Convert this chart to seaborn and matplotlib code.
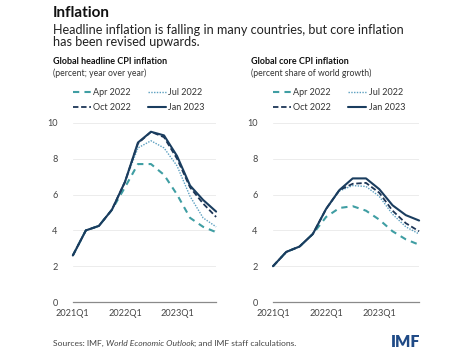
import numpy as np
import pandas as pd
import matplotlib
matplotlib.use("Agg")
import matplotlib.pyplot as plt
import seaborn as sns

# quarters 2021Q1 .. 2023Q4
quarters = ["2021Q1", "2021Q2", "2021Q3", "2021Q4",
            "2022Q1", "2022Q2", "2022Q3", "2022Q4",
            "2023Q1", "2023Q2", "2023Q3", "2023Q4"]
tick_labels = ["2021Q1", "2022Q1", "2023Q1"]
vintages = ["Apr 2022", "Jul 2022", "Oct 2022", "Jan 2023"]

# Global headline CPI inflation (percent, y/y)
headline_apr22 = [2.6, 4.0, 4.25, 5.15, 6.4, 7.7, 7.7, 7.1, 6.0, 4.7, 4.2, 3.9]
headline_jul22 = [2.6, 4.0, 4.25, 5.15, 6.7, 8.6, 9.0, 8.6, 7.6, 5.9, 4.7, 4.2]
headline_oct22 = [2.6, 4.0, 4.25, 5.15, 6.7, 8.85, 9.5, 9.2, 8.0, 6.4, 5.5, 4.75]
headline_jan23 = [2.6, 4.0, 4.25, 5.15, 6.7, 8.9, 9.5, 9.3, 8.15, 6.5, 5.7, 5.05]

# Global core CPI inflation
core_apr22 = [2.0, 2.8, 3.1, 3.8, 4.75, 5.25, 5.35, 5.1, 4.6, 3.95, 3.5, 3.2]
core_jul22 = [2.0, 2.8, 3.1, 3.8, 5.2, 6.2, 6.5, 6.45, 5.9, 4.9, 4.2, 3.8]
core_oct22 = [2.0, 2.8, 3.1, 3.8, 5.2, 6.25, 6.6, 6.65, 6.1, 5.1, 4.4, 3.95]
core_jan23 = [2.0, 2.8, 3.1, 3.8, 5.2, 6.25, 6.9, 6.9, 6.3, 5.4, 4.85, 4.55]

colors = {"Apr 2022": "#3f9ea3", "Jul 2022": "#5b9fc0",
          "Oct 2022": "#1d3657", "Jan 2023": "#1a3d5f"}
dashes = {"Apr 2022": (3, 2.5), "Jul 2022": (1, 1),
          "Oct 2022": (3, 1.5), "Jan 2023": ""}
widths = {"Apr 2022": 1.5, "Jul 2022": 1.0, "Oct 2022": 1.3, "Jan 2023": 1.5}


def long_frame(series):
    rows = []
    for name, vals in zip(vintages, series):
        for i, v in enumerate(vals):
            rows.append({"q": i, "quarter": quarters[i], "vintage": name, "value": v})
    return pd.DataFrame(rows)


headline = long_frame([headline_apr22, headline_jul22, headline_oct22, headline_jan23])
core = long_frame([core_apr22, core_jul22, core_oct22, core_jan23])

sns.set_theme(style="white")
plt.rcParams["font.family"] = ["Lato", "DejaVu Sans"]

fig = plt.figure(figsize=(4.76, 3.55), dpi=100)
ax1 = fig.add_axes([0.153, 0.149, 0.301, 0.505])
ax2 = fig.add_axes([0.5735, 0.149, 0.307, 0.505])

for ax, df in [(ax1, headline), (ax2, core)]:
    for y in [2, 4, 6, 8, 10]:
        ax.axhline(y, color="#ececec", lw=0.7, zorder=0)
    for name in vintages:
        sub = df[df["vintage"] == name]
        sns.lineplot(data=sub, x="q", y="value", ax=ax, color=colors[name],
                     lw=widths[name], legend=False, clip_on=False,
                     zorder=2 + vintages.index(name))
        line = ax.lines[-1]
        line.set_solid_joinstyle("round")
        line.set_dash_joinstyle("round")
        if dashes[name]:
            line.set_dashes(dashes[name])
    ax.set_xlim(0, 11)
    ax.set_ylim(0, 10)
    ax.set_xticks([quarters.index(t) for t in tick_labels])
    ax.set_xticklabels(tick_labels)
    ax.set_yticks([0, 2, 4, 6, 8, 10])
    ax.set_xlabel("")
    ax.set_ylabel("")
    for s in ["top", "right", "left"]:
        ax.spines[s].set_visible(False)
    ax.spines["bottom"].set_color("#8a8a8a")
    ax.spines["bottom"].set_linewidth(0.9)
    ax.tick_params(axis="x", direction="inout", length=4, width=0.8,
                   color="#8a8a8a", labelsize=6.6, labelcolor="#444444", pad=3)
    ax.tick_params(axis="y", length=0, labelsize=6.6, labelcolor="#444444", pad=11)
    ax.patch.set_alpha(0)

# titles
fig.text(0.111, 0.962, "Inflation", fontsize=11, fontweight="bold",
         color="#111111", va="center")
fig.text(0.111, 0.899, "Headline inflation is falling in many countries, but core inflation\nhas been revised upwards.",
         fontsize=9.1, color="#222222", va="center", linespacing=0.93)

panel_info = [(0.111, "Global headline CPI inflation", "(percent; year over year)"),
              (0.527, "Global core CPI inflation", "(percent share of world growth)")]
for x, t, s in panel_info:
    fig.text(x, 0.826, t, fontsize=6.5, fontweight="bold", color="#111111", va="center")
    fig.text(x, 0.795, s, fontsize=6.2, color="#333333", va="center")

# legends: Apr/Jul on first row, Oct/Jan on second
order = ["Apr 2022", "Oct 2022", "Jul 2022", "Jan 2023"]
for ax in [ax1, ax2]:
    handles = []
    for name in order:
        h, = ax.plot([], [], color=colors[name], lw=widths[name])
        if dashes[name]:
            h.set_dashes(dashes[name])
        handles.append(h)
    ax.legend(handles, order, ncol=2, loc="lower left", bbox_to_anchor=(0.0, 1.06),
              frameon=False, fontsize=6.5, handlelength=2.0, handletextpad=0.25,
              columnspacing=1.9, labelspacing=0.7, borderpad=0, borderaxespad=0,
              labelcolor="#333333")

# source line
fig.canvas.draw()
rend = fig.canvas.get_renderer()
x = 0.111
parts = [("Sources: IMF, ", "normal"), ("World Economic Outlook", "italic"),
         ("; and IMF staff calculations.", "normal")]
for txt, style in parts:
    t = fig.text(x, 0.033, txt, fontsize=6.1, style=style, color="#444444", va="center")
    bb = t.get_window_extent(renderer=rend)
    x += bb.width / fig.bbox.width

fig.text(0.882, 0.037, "IMF", fontsize=11.5, fontweight="heavy", color="#1f4a86",
         ha="right", va="center")

fig.savefig("out.png", dpi=100)
